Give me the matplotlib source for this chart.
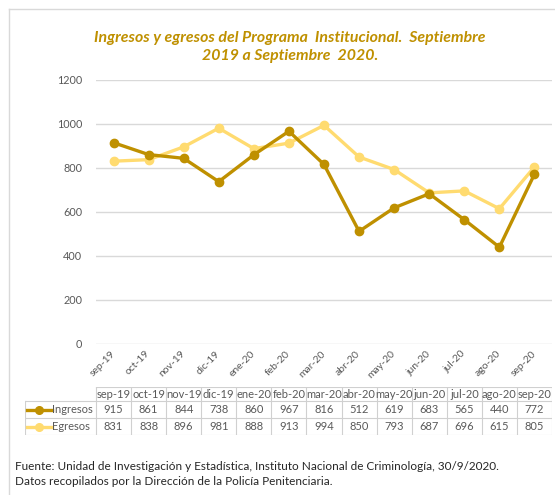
import matplotlib
matplotlib.use("Agg")
import matplotlib.pyplot as plt
from matplotlib.lines import Line2D

categories = ["sep-19", "oct-19", "nov-19", "dic-19", "ene-20", "feb-20", "mar-20",
              "abr-20", "may-20", "jun-20", "jul-20", "ago-20", "sep-20"]
ingresos = [915, 861, 844, 738, 860, 967, 816, 512, 619, 683, 565, 440, 772]
egresos = [831, 838, 896, 981, 888, 913, 994, 850, 793, 687, 696, 615, 805]
series_names = ["Ingresos", "Egresos"]
yticks = [0, 200, 400, 600, 800, 1000, 1200]
title = "Ingresos y egresos del Programa  Institucional.  Septiembre\n2019 a Septiembre  2020."
footer = ("Fuente: Unidad de Investigación y Estadística, Instituto Nacional de Criminología, 30/9/2020.\n"
          "Datos recopilados por la Dirección de la Policía Penitenciaria.")

C_IN = "#BF9000"
C_EG = "#FFDB70"
GRAY = "#595959"
GRID = "#D9D9D9"
FONT = "Lato"

W, H = 555, 495
fig = plt.figure(figsize=(W / 100, H / 100), dpi=100)

def fx(px):
    return px / W

def fy(py):
    return 1 - py / H

# outer border (top & left)
fig.add_artist(Line2D([fx(9), 1], [fy(9), fy(9)], color=GRID, lw=1))
fig.add_artist(Line2D([fx(9), fx(9)], [fy(9), 0], color=GRID, lw=1))

ax_l, ax_r, ax_t, ax_b = 96, 552, 80, 344
ax = fig.add_axes([fx(ax_l), fy(ax_b), fx(ax_r - ax_l), (ax_b - ax_t) / H])
x = list(range(len(categories)))
ax.plot(x, ingresos, color=C_IN, lw=2.4, marker="o", ms=6, zorder=3)
ax.plot(x, egresos, color=C_EG, lw=2.4, marker="o", ms=6, zorder=2)
ax.set_xlim(-0.5, len(categories) - 0.5)
ax.set_ylim(0, 1200)
ax.set_yticks(yticks)
ax.set_yticklabels([str(v) for v in yticks], fontsize=7.8, color=GRAY, family=FONT)
ax.yaxis.grid(True, color=GRID, lw=1)
ax.set_axisbelow(True)
for s in ax.spines.values():
    s.set_visible(False)
ax.tick_params(axis="y", length=0, pad=10)
ax.tick_params(axis="x", length=0, pad=6)
ax.set_xticks(x)
ax.set_xticklabels(categories, rotation=45, ha="right", va="center",
                   rotation_mode="anchor", fontsize=7.5, color=GRAY, family=FONT)

# Title
fig.text(fx(290), fy(47), title, ha="center", va="center", fontsize=11.4,
         fontweight="bold", fontstyle="italic", color=C_IN, family=FONT,
         linespacing=1.35)

# Data table
t_l, t_t, t_b = 25, 387, 435
tax = fig.add_axes([fx(t_l), fy(t_b), fx(ax_r - t_l), (t_b - t_t) / H])
unit = (ax_r - ax_l) / len(categories)
x0 = -0.5 - (ax_l - t_l) / unit
tax.set_xlim(x0, len(categories) - 0.5)
tax.set_ylim(t_b, t_t)
tax.axis("off")
rows = [387, 401, 418, 435]
bc = "#D0D0D0"
tax.plot([-0.5, len(categories) - 0.5], [rows[0], rows[0]], color=bc, lw=0.8)
for r in rows[1:]:
    tax.plot([x0, len(categories) - 0.5], [r, r], color=bc, lw=0.8)
tax.plot([x0, x0], [rows[1], rows[3]], color=bc, lw=0.8)
for i in range(len(categories) + 1):
    tax.plot([i - 0.5, i - 0.5], [rows[0], rows[3]], color=bc, lw=0.8)
tfs = 8
for i, c in enumerate(categories):
    tax.text(i, (rows[0] + rows[1]) / 2, c, ha="center", va="center", fontsize=tfs,
             color=GRAY, family=FONT)
for k, (name, vals, col) in enumerate(zip(series_names, [ingresos, egresos], [C_IN, C_EG])):
    yc = (rows[k + 1] + rows[k + 2]) / 2
    for i, v in enumerate(vals):
        tax.text(i, yc, str(v), ha="center", va="center", fontsize=tfs,
                 color=GRAY, family=FONT)
    kx0 = x0 + 2 / unit
    kx1 = x0 + 27 / unit
    tax.plot([kx0, kx1], [yc, yc], color=col, lw=2.4)
    tax.plot([(kx0 + kx1) / 2], [yc], color=col, marker="o", ms=5.5)
    tax.text(kx1 + 0.3 / unit, yc, name, ha="left", va="center", fontsize=tfs,
             color=GRAY, family=FONT)

# Footer
fig.text(fx(15), fy(474), footer, ha="left", va="center", fontsize=8.5,
         color="#262626", family=FONT, linespacing=1.4)

fig.savefig("out.png", dpi=100)
